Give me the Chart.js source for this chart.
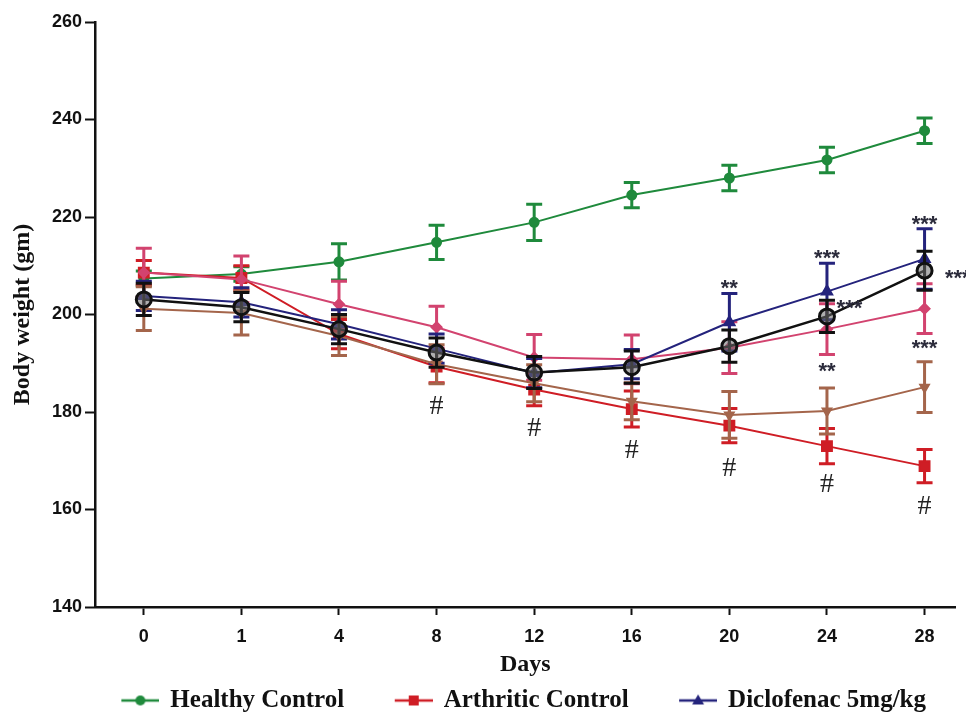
<!DOCTYPE html>
<html><head><meta charset="utf-8">
<script src="https://cdn.jsdelivr.net/npm/chart.js@4.4.0/dist/chart.umd.min.js"></script>
<style>html,body{margin:0;padding:0;background:#fff;}</style>
</head><body>
<canvas id="c" width="966" height="713"></canvas>
<script>
// ---- data ----
const days = ['0','1','4','8','12','16','20','24','28'];

const healthy       = [207.4, 208.3, 210.8, 214.8, 218.9, 224.5, 228.0, 231.7, 237.7];
const healthyErr    = [1.5, 1.5, 3.7, 3.5, 3.7, 2.6, 2.6, 2.6, 2.6];
const arthritic     = [208.6, 207.5, 196.0, 189.3, 184.6, 180.6, 177.2, 173.0, 168.9];
const arthriticErr  = [2.5, 2.5, 3.0, 3.3, 3.3, 3.7, 3.5, 3.6, 3.4];
const diclofenac    = [203.8, 202.5, 198.0, 193.0, 188.0, 189.8, 198.4, 204.7, 211.4];
const diclofenacErr = [3.0, 3.0, 3.0, 3.0, 3.0, 3.0, 5.9, 5.8, 6.2];
const groupPink     = [208.6, 207.2, 202.1, 197.4, 191.2, 190.8, 193.2, 197.0, 201.2];
const groupPinkErr  = [5.0, 4.8, 4.7, 4.3, 4.7, 5.0, 5.3, 5.2, 5.1];
const groupBrown    = [201.2, 200.3, 195.6, 189.8, 185.9, 182.2, 179.4, 180.2, 185.1];
const groupBrownErr = [4.5, 4.5, 4.0, 4.0, 3.8, 3.8, 4.8, 4.7, 5.2];
const groupBlack    = [203.1, 201.5, 197.0, 192.2, 188.1, 189.2, 193.5, 199.6, 209.0];
const groupBlackErr = [3.3, 3.0, 3.0, 3.0, 3.3, 3.3, 3.3, 3.3, 4.0];

// significance marks (x = day index, y = body weight)
const hashDay  = [3, 4, 5, 6, 7, 8];
const hashVal  = [181.0, 176.5, 172.0, 168.3, 165.2, 160.5];
const starText = ['**', '***', '***', '***', '***', '**', '***'];
const starDay  = [6, 7, 8, 8.34, 7.23, 7, 8];
const starVal  = [206.6, 212.7, 219.7, 208.6, 202.5, 189.6, 194.3];

// ---- styling ----
const GREEN = '#1f8a3c', RED = '#cf1d25', NAVY = '#24237c', PINK = '#d2436f', BROWN = '#a4654b', BLACK = '#111111';
const pts = arr => arr.map((v, i) => ({x: i, y: v}));

function legendIcon(color, shape) {
  const c = document.createElement('canvas');
  c.width = 50; c.height = 20;
  const g = c.getContext('2d');
  g.strokeStyle = color; g.fillStyle = color; g.lineWidth = 2.5;
  g.beginPath(); g.moveTo(12, 10); g.lineTo(50, 10); g.stroke();
  g.beginPath();
  if (shape === 'circle') { g.arc(31, 10, 5, 0, Math.PI * 2); g.fill(); }
  else if (shape === 'rect') { g.fillRect(26, 5, 10, 10); }
  else { g.moveTo(31, 4); g.lineTo(37, 14); g.lineTo(25, 14); g.closePath(); g.fill(); }
  return c;
}
const icons = [legendIcon(GREEN, 'circle'), legendIcon(RED, 'rect'), legendIcon(NAVY, 'tri')];

const errorBars = {
  id: 'errorBars',
  beforeDatasetDraw(chart, args) {
    const ds = chart.data.datasets[args.index];
    if (!ds.errors) return;
    const {ctx, scales: {x, y}} = chart;
    ctx.save();
    ctx.strokeStyle = ds.borderColor;
    ctx.lineWidth = 3;
    ds.data.forEach((p, i) => {
      const px = x.getPixelForValue(p.x);
      const t = y.getPixelForValue(p.y + ds.errors[i]);
      const b = y.getPixelForValue(p.y - ds.errors[i]);
      ctx.beginPath();
      ctx.moveTo(px, t); ctx.lineTo(px, b);
      ctx.moveTo(px - 8, t); ctx.lineTo(px + 8, t);
      ctx.moveTo(px - 8, b); ctx.lineTo(px + 8, b);
      ctx.stroke();
    });
    ctx.restore();
  }
};

const marks = {
  id: 'marks',
  afterDatasetsDraw(chart) {
    const {ctx, scales: {x, y}} = chart;
    ctx.save();
    ctx.fillStyle = '#222';
    ctx.textAlign = 'center';
    ctx.font = '28px "Liberation Serif"';
    ctx.textBaseline = 'middle';
    hashDay.forEach((d, i) => ctx.fillText('#', x.getPixelForValue(d), y.getPixelForValue(hashVal[i])));
    ctx.font = 'bold 22px "Liberation Sans"';
    ctx.textBaseline = 'alphabetic';
    ctx.fillStyle = '#2b2b3b';
    starText.forEach((t, i) => ctx.fillText(t, x.getPixelForValue(starDay[i]), y.getPixelForValue(starVal[i]) + 12.5));
    ctx.restore();
  }
};

const tickFont = {family: 'Liberation Sans', weight: 'bold', size: 18};
const titleFont = {family: 'Liberation Serif', weight: 'bold', size: 24};

new Chart(document.getElementById('c'), {
  type: 'line',
  data: {
    datasets: [
      {label: 'Healthy Control', data: pts(healthy), errors: healthyErr, borderColor: GREEN, backgroundColor: GREEN,
       pointStyle: 'circle', pointRadius: 4.5, borderWidth: 2, order: 6},
      {label: 'Arthritic Control', data: pts(arthritic), errors: arthriticErr, borderColor: RED, backgroundColor: RED,
       pointStyle: 'rect', pointRadius: 7, borderWidth: 2, order: 5},
      {label: 'Diclofenac 5mg/kg', data: pts(diclofenac), errors: diclofenacErr, borderColor: NAVY, backgroundColor: NAVY,
       pointStyle: 'triangle', pointRadius: 6, borderWidth: 2, order: 3},
      {label: 'Group 4', data: pts(groupPink), errors: groupPinkErr, borderColor: PINK, backgroundColor: PINK,
       pointStyle: 'rectRot', pointRadius: 5, borderWidth: 2, order: 4},
      {label: 'Group 5', data: pts(groupBrown), errors: groupBrownErr, borderColor: BROWN, backgroundColor: BROWN,
       pointStyle: 'triangle', pointRotation: 180, pointRadius: 5, borderWidth: 2, order: 2},
      {label: 'Group 6', data: pts(groupBlack), errors: groupBlackErr, borderColor: BLACK, backgroundColor: 'rgba(110,110,110,0.55)',
       pointBorderColor: BLACK, pointStyle: 'circle', pointRadius: 7.5, pointBorderWidth: 3, borderWidth: 2.5, order: 1}
    ]
  },
  options: {
    responsive: false,
    animation: false,
    devicePixelRatio: 1,
    layout: {padding: {left: 0, right: 0, top: 22, bottom: -10}},
    elements: {line: {tension: 0}},
    plugins: {
      tooltip: {enabled: false},
      legend: {
        position: 'bottom',
        align: 'end',
        labels: {
          usePointStyle: true,
          pointStyleWidth: 47,
          padding: 40,
          color: '#111',
          font: {family: 'Liberation Serif', weight: 'bold', size: 25},
          generateLabels: (chart) => chart.data.datasets.slice(0, 3).map((ds, i) => ({
            text: ds.label, pointStyle: icons[i], fillStyle: ds.borderColor, strokeStyle: ds.borderColor,
            lineWidth: 0, hidden: false, datasetIndex: i, fontColor: '#111'
          }))
        }
      }
    },
    scales: {
      x: {
        type: 'linear', min: -0.5, max: 8.317,
        afterBuildTicks: (s) => { s.ticks = days.map((d, i) => ({value: i})); },
        afterFit: (s) => { s.height = 41; },
        ticks: {callback: (v) => days[v], font: tickFont, color: '#111', padding: 11, autoSkip: false, maxRotation: 0},
        grid: {display: true, drawOnChartArea: false, drawTicks: true, tickLength: 8, tickColor: '#111', tickWidth: 2},
        border: {display: true, color: '#111', width: 2.5},
        title: {display: true, text: 'Days', font: titleFont, color: '#111', padding: {top: 0, bottom: -31}}
      },
      y: {
        min: 140, max: 260,
        afterFit: (s) => { s.width = 95; },
        ticks: {stepSize: 20, font: tickFont, color: '#111', padding: 3},
        grid: {display: true, drawOnChartArea: false, drawTicks: true, tickLength: 10, tickColor: '#111', tickWidth: 2},
        border: {display: true, color: '#111', width: 2.5},
        title: {display: true, text: 'Body weight (gm)', font: titleFont, color: '#111', padding: {top: 8, bottom: 0}}
      }
    }
  },
  plugins: [errorBars, marks]
});
</script>
</body></html>
